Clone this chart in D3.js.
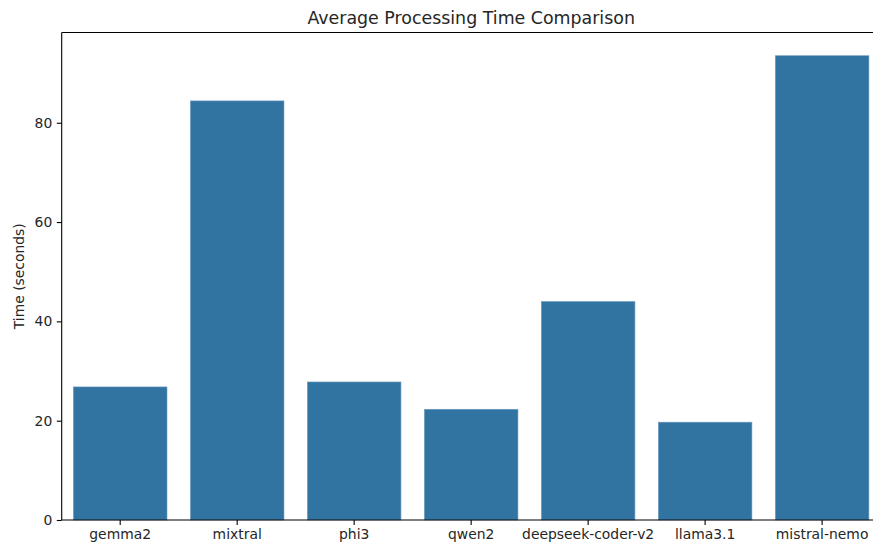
<!DOCTYPE html>
<html><head><meta charset="utf-8">
<script src="https://cdn.jsdelivr.net/npm/d3@7"></script>
<style>
html,body{margin:0;padding:0;background:#fff;overflow:hidden}
text{font-family:"DejaVu Sans",sans-serif;fill:#262626}
</style></head>
<body><svg id="c" width="873" height="550"></svg>
<script>
const categories = ["gemma2","mixtral","phi3","qwen2","deepseek-coder-v2","llama3.1","mistral-nemo"];
const values = [26.8, 84.4, 27.8, 22.3, 44.0, 19.7, 93.5];
const yTicks = [0, 20, 40, 60, 80];
const title = "Average Processing Time Comparison";
const yLabel = "Time (seconds)";

const svg = d3.select("#c");
const L = 61.7, R = 880.6, T = 32.5, B = 520;
const x = d3.scaleBand().domain(categories).range([L, R]).paddingInner(0.2).paddingOuter(0.1);
const y = d3.scaleLinear().domain([0, d3.max(values) * 1.05]).range([B, T]);

svg.append("g").selectAll("rect").data(categories).join("rect")
  .attr("x", d => x(d)).attr("width", x.bandwidth())
  .attr("y", (d, i) => y(values[i])).attr("height", (d, i) => B - y(values[i]))
  .attr("fill", "#3274a1").attr("stroke", "#6f9cc0").attr("stroke-width", 0.6);

const xAxis = svg.append("g").attr("transform", `translate(0,${B})`)
  .call(d3.axisBottom(x).tickSize(4.9).tickPadding(4.5));
const yAxis = svg.append("g").attr("transform", `translate(${L},0)`)
  .call(d3.axisLeft(y).tickValues(yTicks).tickSize(4.9).tickPadding(4.5));
[xAxis, yAxis].forEach(a => {
  a.select(".domain").remove();
  a.selectAll("line").attr("stroke", "#000").attr("stroke-width", 1.1);
  a.selectAll("text").attr("font-size", "13.9px").attr("fill", "#262626")
   .style("font-family", '"DejaVu Sans",sans-serif');
});

// spines
const sp = svg.append("g").attr("stroke", "#000").attr("stroke-width", 1.1).attr("fill", "none");
sp.append("line").attr("x1", L).attr("x2", L).attr("y1", T).attr("y2", B);
sp.append("line").attr("x1", L).attr("x2", R).attr("y1", B).attr("y2", B);
sp.append("line").attr("x1", L).attr("x2", R).attr("y1", T).attr("y2", T);
sp.append("line").attr("x1", R).attr("x2", R).attr("y1", T).attr("y2", B);

svg.append("text").attr("x", (L + R) / 2).attr("y", 24).attr("text-anchor", "middle")
  .attr("font-size", "17.4px").text(title);
svg.append("text").attr("transform", `translate(24,${(T + B) / 2}) rotate(-90)`)
  .attr("text-anchor", "middle").attr("font-size", "13.9px").text(yLabel);
</script></body></html>
